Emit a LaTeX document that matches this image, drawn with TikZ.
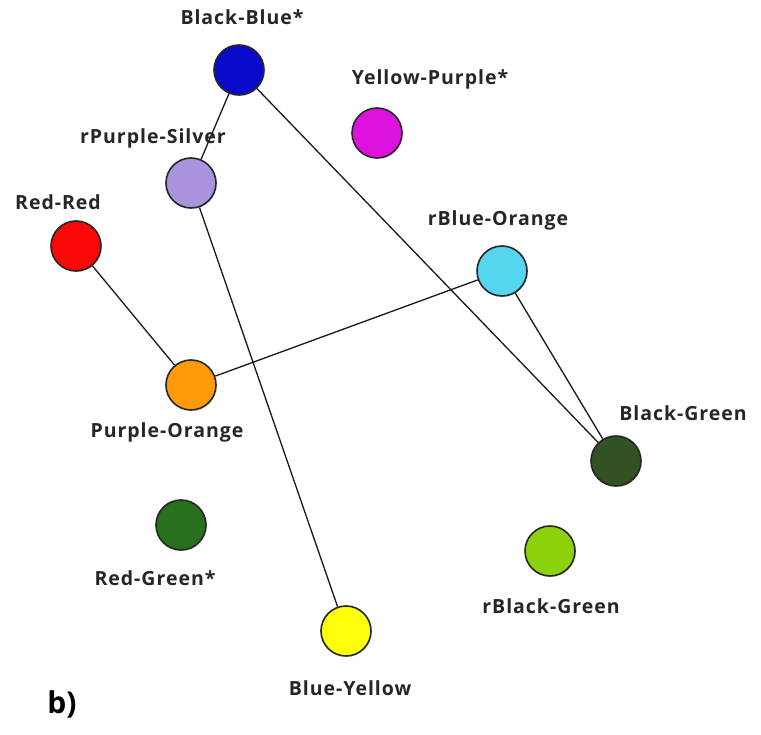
\documentclass[tikz,border=0pt]{standalone}
\usepackage{fontspec}
\setmainfont{Open Sans}
\newfontfamily\lblfont[LetterSpace=5]{Open Sans}
\usetikzlibrary{shadows}
\definecolor{cBB}{RGB}{10,10,205}
\definecolor{cYP}{RGB}{222,18,222}
\definecolor{cPS}{RGB}{170,148,222}
\definecolor{cRR}{RGB}{250,8,8}
\definecolor{cBO}{RGB}{84,214,240}
\definecolor{cPO}{RGB}{255,155,8}
\definecolor{cBG}{RGB}{50,82,36}
\definecolor{cRG}{RGB}{40,112,30}
\definecolor{crBG}{RGB}{140,210,10}
\definecolor{cBY}{RGB}{255,255,10}
\tikzset{
  ball/.style={circle, draw=black!85, line width=1.6pt, minimum size=50pt, inner sep=0pt,
    drop shadow={opacity=0.25, shadow xshift=1pt, shadow yshift=-1pt}},
  lbl/.style={font=\lblfont\fontsize{19.5}{22}\selectfont\bfseries, text=black!85},
  edge/.style={line width=1.3pt, black!90}
}
\begin{document}
\begin{tikzpicture}[x=1pt,y=-1pt]
\useasboundingbox (0,0) rectangle (761,735);
\fill[white] (0,0) rectangle (761,735);
\node[ball, fill=cBB] (bb) at (239,70) {};
\node[ball, fill=cYP] (yp) at (377,133) {};
\node[ball, fill=cPS] (ps) at (191,183) {};
\node[ball, fill=cRR] (rr) at (76,246) {};
\node[ball, fill=cBO] (bo) at (502,271) {};
\node[ball, fill=cPO] (po) at (191,385) {};
\node[ball, fill=cBG] (bg) at (616,461) {};
\node[ball, fill=cRG] (rg) at (181,525) {};
\node[ball, fill=crBG] (rbg) at (550,551) {};
\node[ball, fill=cBY] (by) at (346,631) {};
\draw[edge] (bb) -- (ps);
\draw[edge] (bb) -- (bg);
\draw[edge] (ps) -- (by);
\draw[edge] (rr) -- (po);
\draw[edge] (po) -- (bo);
\draw[edge] (bo) -- (bg);
\node[lbl] (lbb) at (242,17) {Black-Blue*};
\node[lbl] (lyp) at (430,79) {Yellow-Purple*};
\node[lbl] (lps) at (153,138) {rPurple-Silver};
\node[lbl] (lrr) at (58,202) {Red-Red};
\node[lbl] (lbo) at (498,220) {rBlue-Orange};
\node[lbl] (lpo) at (167,432) {Purple-Orange};
\node[lbl] (lbg) at (683,413) {Black-Green};
\node[lbl] (lrg) at (155,578) {Red-Green*};
\node[lbl] (lrbg) at (551,606) {rBlack-Green};
\node[lbl] (lby) at (350,688) {Blue-Yellow};
\node[font=\fontsize{30}{34}\selectfont\bfseries] (b) at (62,704) {b)};
\end{tikzpicture}
\end{document}
